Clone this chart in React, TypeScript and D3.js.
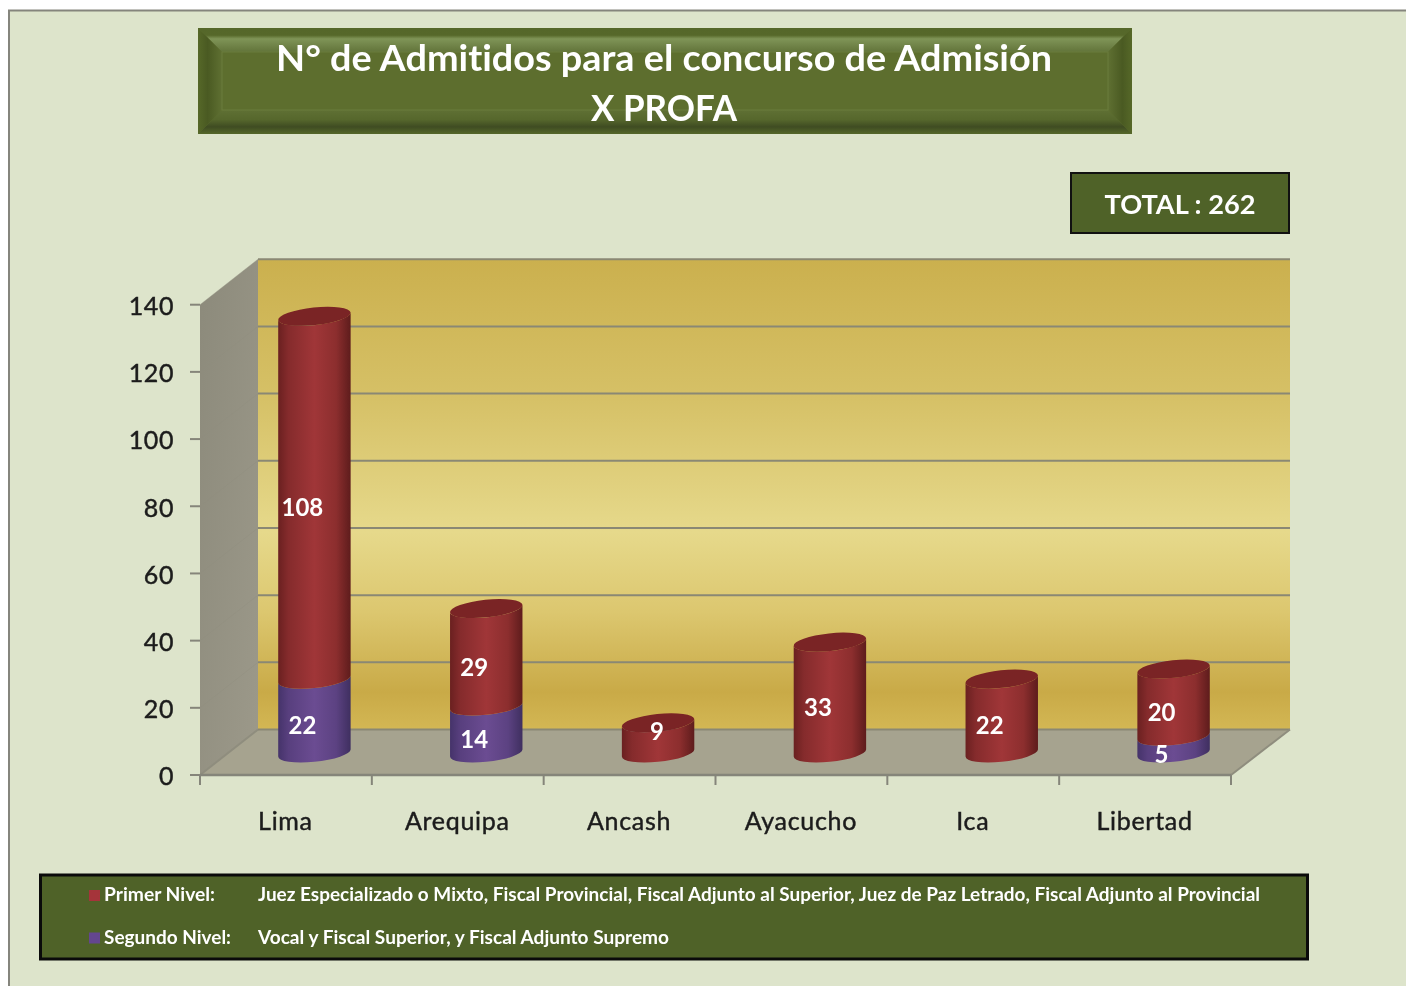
import React from "react";
import * as d3 from "d3";

const categories = ["Lima", "Arequipa", "Ancash", "Ayacucho", "Ica", "Libertad"];
const primerNivel = [108, 29, 9, 33, 22, 20];
const segundoNivel = [22, 14, 0, 0, 0, 5];
const yTicks = [0, 20, 40, 60, 80, 100, 120, 140];
const titleLines = ["N° de Admitidos para el concurso de Admisión", "X PROFA"];
const totalLabel = "TOTAL : 262";
const legendRows = [
  { key: "primer", name: "Primer Nivel:", text: "Juez Especializado o Mixto, Fiscal Provincial, Fiscal Adjunto al Superior, Juez de Paz Letrado, Fiscal Adjunto al Provincial", len: 1002 },
  { key: "segundo", name: "Segundo Nivel:", text: "Vocal y Fiscal Superior, y Fiscal Adjunto Supremo", len: 411 },
];

const FONT = "Lato, 'Open Sans', sans-serif";
const W = 1406, H = 986;
const left = 200, right = 1231, y0 = 775, y140 = 304.7;
const depthX = 58, depthY = 45.5;

const x = d3.scaleBand<string>().domain(categories).range([left, right]);
const y = d3.scaleLinear().domain([0, 140]).range([y0, y140]);

const rows = categories.map((c, i) => ({ c, primer: primerNivel[i], segundo: segundoNivel[i] }));
const stacked = d3.stack<any>().keys(["segundo", "primer"])(rows);

const colors: Record<string, { fill: string; solid: string }> = {
  primer: { fill: "url(#cylRed)", solid: "#A5343A" },
  segundo: { fill: "url(#cylPurple)", solid: "#64468F" },
};

const RX = 36.4, RY = 8.8, ROT = -6;
const rad = (ROT * Math.PI) / 180;
const HW = Math.sqrt(RX * RX * Math.cos(rad) ** 2 + RY * RY * Math.sin(rad) ** 2);
const TILT = ((RX * RX - RY * RY) * Math.abs(Math.sin(rad)) * Math.cos(rad)) / HW;
const LIFT = 22;

function segment(cx: number, yb: number, yt: number) {
  const l = cx - HW, r = cx + HW;
  return `M${l},${yb + TILT}A${RX},${RY} ${ROT} 0 0 ${r},${yb - TILT}L${r},${yt - TILT}A${RX},${RY} ${ROT} 0 1 ${l},${yt + TILT}Z`;
}

function Bevel({ x0, y0: t, x1, y1: b, w }: { x0: number; y0: number; x1: number; y1: number; w: number }) {
  const poly = (pts: number[][]) => pts.map((p) => p.join(",")).join(" ");
  return (
    <g>
      <rect x={x0} y={t} width={x1 - x0} height={b - t} fill="#5D6E2E" />
      <polygon points={poly([[x0, t], [x1, t], [x1 - w, t + w], [x0 + w, t + w]])} fill="url(#bevTop)" />
      <polygon points={poly([[x0, b], [x1, b], [x1 - w, b - w], [x0 + w, b - w]])} fill="url(#bevBottom)" />
      <polygon points={poly([[x0, t], [x0 + w, t + w], [x0 + w, b - w], [x0, b]])} fill="url(#bevLeft)" />
      <polygon points={poly([[x1, t], [x1 - w, t + w], [x1 - w, b - w], [x1, b]])} fill="url(#bevRight)" />
      <rect x={x0 + w} y={t + w} width={x1 - x0 - 2 * w} height={b - t - 2 * w} fill="#5D6E2E" stroke="#6B7C3C" strokeWidth={1} />
    </g>
  );
}

export default function App() {
  const dark = { fill: "#1c1c1c", stroke: "#1c1c1c", strokeWidth: 0.45 };
  return (
    <svg width={W} height={H} viewBox={`0 0 ${W} ${H}`} style={{ position: "absolute", left: 0, top: 0, filter: "blur(0.4px)", fontVariantLigatures: "none" }} fontFamily={FONT}>
      <defs>
        <linearGradient id="wall" x1="0" y1="0" x2="0" y2="1">
          <stop offset="0" stopColor="#CBB04E" />
          <stop offset="0.3" stopColor="#D6C167" />
          <stop offset="0.58" stopColor="#E6D98B" />
          <stop offset="0.75" stopColor="#DCC76F" />
          <stop offset="0.92" stopColor="#C9AA47" />
          <stop offset="1" stopColor="#D3B754" />
        </linearGradient>
        <linearGradient id="side" x1="0" y1="0" x2="1" y2="1">
          <stop offset="0" stopColor="#8C8A7B" />
          <stop offset="1" stopColor="#9C998A" />
        </linearGradient>
        <linearGradient id="cylRed" x1="0" y1="0" x2="1" y2="0">
          <stop offset="0" stopColor="#6A2020" />
          <stop offset="0.14" stopColor="#852B2C" />
          <stop offset="0.5" stopColor="#A03638" />
          <stop offset="0.8" stopColor="#8C2E2E" />
          <stop offset="1" stopColor="#5E1C1C" />
        </linearGradient>
        <linearGradient id="cylPurple" x1="0" y1="0" x2="1" y2="0">
          <stop offset="0" stopColor="#45336A" />
          <stop offset="0.14" stopColor="#583F7E" />
          <stop offset="0.5" stopColor="#6B4C92" />
          <stop offset="0.8" stopColor="#5C4282" />
          <stop offset="1" stopColor="#3F2F60" />
        </linearGradient>
        <linearGradient id="bevTop" x1="0" y1="0" x2="0" y2="1">
          <stop offset="0" stopColor="#55672A" />
          <stop offset="0.3" stopColor="#56682A" />
          <stop offset="0.45" stopColor="#7F9457" />
          <stop offset="1" stopColor="#62743A" />
        </linearGradient>
        <linearGradient id="bevBottom" x1="0" y1="1" x2="0" y2="0">
          <stop offset="0" stopColor="#55672A" />
          <stop offset="0.3" stopColor="#3F4C22" />
          <stop offset="0.6" stopColor="#56672C" />
          <stop offset="1" stopColor="#5F7034" />
        </linearGradient>
        <linearGradient id="bevLeft" x1="0" y1="0" x2="1" y2="0">
          <stop offset="0" stopColor="#566828" />
          <stop offset="0.4" stopColor="#4A5A22" />
          <stop offset="1" stopColor="#5F7032" />
        </linearGradient>
        <linearGradient id="bevRight" x1="1" y1="0" x2="0" y2="0">
          <stop offset="0" stopColor="#566828" />
          <stop offset="0.4" stopColor="#4A5A22" />
          <stop offset="1" stopColor="#5F7032" />
        </linearGradient>
      </defs>

      <rect width={W} height={H} fill="#fff" />
      <rect x={9} y={11} width={W - 9} height={H - 11} fill="#DDE4CB" />
      <path d={`M9,${H}V10.5H${W}`} fill="none" stroke="#85857D" strokeWidth={2} />

      <Bevel x0={198} y0={28} x1={1132} y1={134} w={24} />
      <text x={664} y={71} textAnchor="middle" fontSize={36} fontWeight={700} fill="#fff" textLength={776} lengthAdjust="spacingAndGlyphs">{titleLines[0]}</text>
      <text x={664} y={121} textAnchor="middle" fontSize={36} fontWeight={700} fill="#fff" textLength={146} lengthAdjust="spacingAndGlyphs">{titleLines[1]}</text>

      <rect x={1071} y={173} width={218} height={60} fill="#4F6228" stroke="#111" strokeWidth={2} />
      <text x={1180} y={214} textAnchor="middle" fontSize={27} fontWeight={700} fill="#fff" textLength={151} lengthAdjust="spacingAndGlyphs">{totalLabel}</text>

      {/* chart walls */}
      <polygon points={`${left},${y(140)} ${left + depthX},${y(140) - depthY} ${left + depthX},${y(0) - depthY} ${left},${y(0)}`} fill="url(#side)" />
      <rect x={left + depthX} y={y(140) - depthY} width={right + 1 - left} height={y(0) - y(140)} fill="url(#wall)" />
      <polygon points={`${left + depthX},${y(0) - depthY} ${right + depthX + 1},${y(0) - depthY} ${right},${y(0)} ${left},${y(0)}`} fill="#A6A38F" />

      {yTicks.map((t) => (
        <g key={t}>
          <line x1={left + depthX} x2={right + depthX + 1} y1={y(t) - depthY} y2={y(t) - depthY} stroke="#8A8874" strokeWidth={2} />
          <line x1={left} x2={left + depthX} y1={y(t)} y2={y(t) - depthY} stroke="#8F8D7E" strokeWidth={1} opacity={0.35} />
          <line x1={left - 10} x2={left} y1={y(t)} y2={y(t)} stroke="#85857A" strokeWidth={2} />
          <text x={174} y={y(t) + 1.5} dy="0.35em" textAnchor="end" fontSize={25} {...dark} letterSpacing={0.6}>{t}</text>
        </g>
      ))}
      <line x1={right} y1={y(0)} x2={right + depthX + 1} y2={y(0) - depthY} stroke="#8F8D7E" strokeWidth={2} />
      <line x1={left} y1={y(0)} x2={left + depthX} y2={y(0) - depthY} stroke="#8F8D7E" strokeWidth={2} />
      <line x1={left} y1={y(0)} x2={right} y2={y(0)} stroke="#85857A" strokeWidth={2.5} />
      {[...categories.map((c) => x(c)!), right].map((tx) => (
        <line key={tx} x1={tx} x2={tx} y1={y(0)} y2={y(0) + 10} stroke="#85857A" strokeWidth={2} />
      ))}

      {categories.map((c) => (
        <text key={c} x={x(c)! + x.bandwidth() / 2 - 0.5} y={830} textAnchor="middle" fontSize={25} {...dark} letterSpacing={0.7}>{c}</text>
      ))}

      {/* cylinders */}
      {categories.map((c, i) => {
        const cx = x(c)! + x.bandwidth() / 2 + depthX / 2 - 0.5;
        const segs = stacked.map((s) => ({ key: s.key as string, lo: s[i][0], hi: s[i][1] })).filter((s) => s.hi > s.lo);
        const topVal = segs[segs.length - 1].hi;
        const topY = y(topVal) - LIFT;
        return (
          <g key={c}>
            {segs.map((s) => (
              <path key={s.key} d={segment(cx, y(s.lo) - LIFT, y(s.hi) - LIFT)} fill={colors[s.key].fill} />
            ))}
            <ellipse cx={cx} cy={topY} rx={RX} ry={RY} transform={`rotate(${ROT} ${cx} ${topY})`} fill="#7A2425" />
          </g>
        );
      })}

      {/* data labels */}
      {categories.map((c, i) => {
        const cx = x(c)! + x.bandwidth() / 2 + depthX / 2 - 0.5;
        return stacked.map((s) => {
          const v = s[i][1] - s[i][0];
          if (v <= 0) return null;
          const small = v < 10 && s.key === "primer";
          const mid = y((s[i][0] + s[i][1]) / 2) - LIFT;
          return (
            <text key={c + s.key} x={small ? cx - 1 : cx - 12} y={mid + (small ? -6 : 10)} dy="0.35em" textAnchor="middle" fontSize={24} fontWeight={700} fill="#fff">{v}</text>
          );
        });
      })}

      {/* legend */}
      <rect x={40.5} y={875} width={1267} height={84} fill="#4F6228" stroke="#0a0a0a" strokeWidth={3} />
      {legendRows.map((r, k) => {
        const ty = 901 + k * 42.5;
        return (
          <g key={r.key}>
            <rect x={89} y={ty - 11} width={11} height={11} fill={colors[r.key].solid} />
            <text x={104} y={ty} fontSize={19.5} fontWeight={700} fill="#fff" textLength={k === 0 ? 111 : 127} lengthAdjust="spacingAndGlyphs">{r.name}</text>
            <text x={258} y={ty} fontSize={19.5} fontWeight={700} fill="#fff" textLength={r.len} lengthAdjust="spacingAndGlyphs">{r.text}</text>
          </g>
        );
      })}
    </svg>
  );
}
